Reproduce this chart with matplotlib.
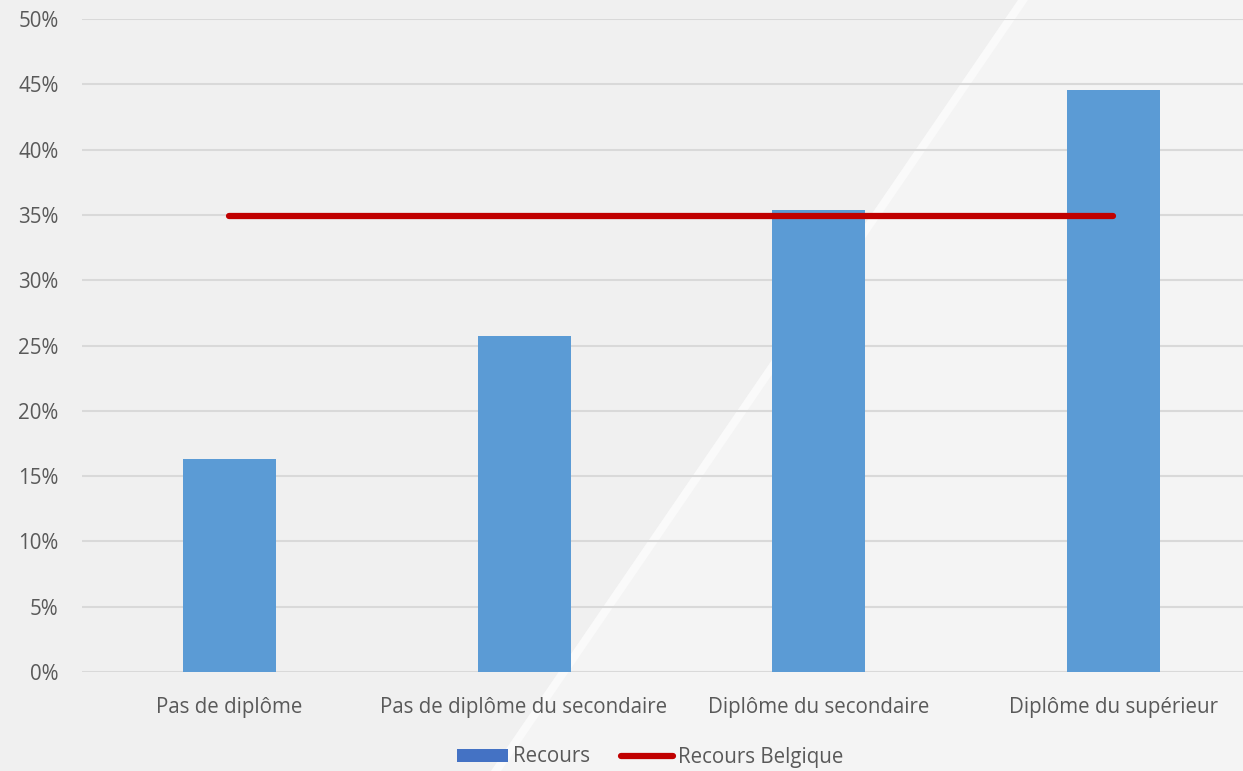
import matplotlib
matplotlib.use("Agg")
import matplotlib.pyplot as plt
from matplotlib.patches import Polygon, Patch
from matplotlib.lines import Line2D
from matplotlib.ticker import FuncFormatter, MultipleLocator

plt.rcParams['font.family'] = ['Open Sans', 'DejaVu Sans']

categories = ["Pas de diplôme", "Pas de diplôme du secondaire",
              "Diplôme du secondaire", "Diplôme du supérieur"]
recours = [16.3, 25.7, 35.4, 44.6]
recours_belgique = [34.9, 34.9, 34.9, 34.9]

W, H = 1243, 771
FS = 14.8
fig = plt.figure(figsize=(W / 100, H / 100), dpi=100)
fig.patch.set_facecolor("#f4f4f4")

# darker panel left of the diagonal stripe, then the pale stripe itself
def px(x, y):
    return (x / W, 1 - y / H)

left_panel = Polygon([px(0, 0), px(1018, 0), px(491, 771), px(0, 771)],
                     closed=True, transform=fig.transFigure,
                     facecolor="#f0f0f0", edgecolor="none", zorder=-2)
fig.patches.append(left_panel)
stripe = Polygon([px(1018, 0), px(1028, 0), px(501, 771), px(491, 771)],
                 closed=True, transform=fig.transFigure,
                 facecolor="#fafafa", edgecolor="none", zorder=-1)
fig.patches.append(stripe)

left, right, top, bottom = 82, 1243, 19, 672
ax = fig.add_axes([left / W, 1 - bottom / H, (right - left) / W, (bottom - top) / H])
ax.set_facecolor("none")
ax.set_zorder(1)

cat_w = 294.7
x = list(range(len(categories)))
ax.bar(x, recours, width=93 / cat_w, color="#5b9bd5", zorder=2)
ax.plot(x, recours_belgique, color="#c00000", lw=4.5, solid_capstyle="round", zorder=3)

ax.set_xlim(-0.5, -0.5 + (right - left) / cat_w)
ax.set_ylim(0, 50)
ax.yaxis.set_major_locator(MultipleLocator(5))
ax.yaxis.set_major_formatter(FuncFormatter(lambda v, p: f"{v:.0f}%"))
ax.set_xticks(x)
ax.set_xticklabels(categories)
ax.grid(axis="y", color="#d9d9d9", lw=1.5, zorder=0)
for s in ax.spines.values():
    s.set_visible(False)
ax.tick_params(axis="both", length=0, labelsize=FS, labelcolor="#595959")
ax.tick_params(axis="y", pad=17)
ax.tick_params(axis="x", pad=18)

handles = [Patch(facecolor="#4472c4", edgecolor="none"),
           Line2D([0], [0], color="#c00000", lw=4.5, solid_capstyle="round")]
leg = fig.legend(handles, ["Recours", "Recours Belgique"], loc="center",
                 bbox_to_anchor=(650 / W, 1 - 757 / H), ncol=2, frameon=False,
                 fontsize=FS, labelcolor="#595959", handlelength=2.5,
                 handleheight=0.63, handletextpad=0.25, columnspacing=1.5)

fig.savefig("out.png", dpi=100, facecolor=fig.get_facecolor())
